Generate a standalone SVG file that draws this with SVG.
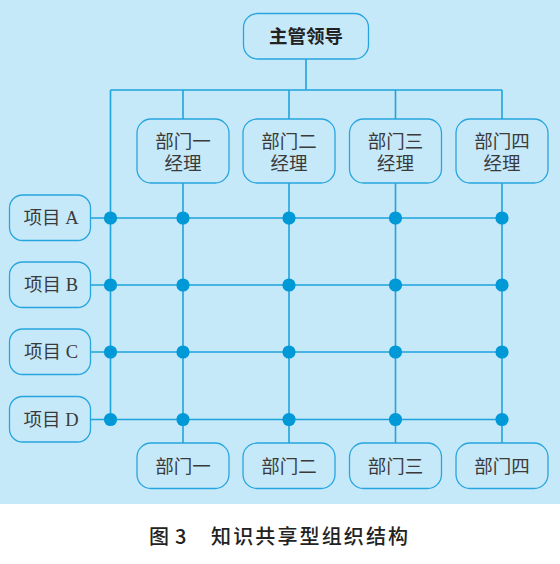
<svg xmlns="http://www.w3.org/2000/svg" width="560" height="564" viewBox="0 0 560 564">
<style>
.box{fill:#c6e9fa;stroke:#27a5de;stroke-width:1.3}
.ln{stroke:#1ea4dc;stroke-width:1.6;fill:none}
.dot{fill:#0099d8}
.t{font-family:"Liberation Serif","Noto Sans CJK SC",serif;font-size:18.5px;fill:#3a3a3a;text-anchor:middle}
.tb{font-family:"Noto Sans CJK SC",sans-serif;font-size:18.5px;font-weight:bold;fill:#222;text-anchor:middle}
.cap{font-family:"Noto Sans CJK SC",sans-serif;font-size:20px;font-weight:500;fill:#222}
</style>
<rect x="0" y="0" width="560" height="504" fill="#c6e9fa"/>
<g id="connectors">
<path class="ln" d="M306 59V90M110.5 90H502M183 90V119M289 90V119M395.5 90V119M502 90V119"/>
<path class="ln" d="M110.5 90V419.5M183 183V443M289 183V443M395.5 183V443M502 183V443"/>
<path class="ln" d="M90.5 218H502M90.5 285H502M90.5 352H502M90.5 419.5H502"/>
<g class="dot">
<circle cx="110.5" cy="218" r="6.6"/><circle cx="183" cy="218" r="6.6"/><circle cx="289" cy="218" r="6.6"/><circle cx="395.5" cy="218" r="6.6"/><circle cx="502" cy="218" r="6.6"/>
<circle cx="110.5" cy="285" r="6.6"/><circle cx="183" cy="285" r="6.6"/><circle cx="289" cy="285" r="6.6"/><circle cx="395.5" cy="285" r="6.6"/><circle cx="502" cy="285" r="6.6"/>
<circle cx="110.5" cy="352" r="6.6"/><circle cx="183" cy="352" r="6.6"/><circle cx="289" cy="352" r="6.6"/><circle cx="395.5" cy="352" r="6.6"/><circle cx="502" cy="352" r="6.6"/>
<circle cx="110.5" cy="419.5" r="6.6"/><circle cx="183" cy="419.5" r="6.6"/><circle cx="289" cy="419.5" r="6.6"/><circle cx="395.5" cy="419.5" r="6.6"/><circle cx="502" cy="419.5" r="6.6"/>
</g>
</g>
<g id="leader"><rect class="box" x="243.5" y="13.5" width="125" height="45.5" rx="14"/><text class="tb" x="306" y="43">主管领导</text></g>
<g id="mgr1"><rect class="box" x="137" y="119" width="92" height="64" rx="14"/><text class="t" x="183" y="148">部门一</text><text class="t" x="183" y="170">经理</text></g>
<g id="mgr2"><rect class="box" x="243" y="119" width="92" height="64" rx="14"/><text class="t" x="289" y="148">部门二</text><text class="t" x="289" y="170">经理</text></g>
<g id="mgr3"><rect class="box" x="349.5" y="119" width="92" height="64" rx="14"/><text class="t" x="395.5" y="148">部门三</text><text class="t" x="395.5" y="170">经理</text></g>
<g id="mgr4"><rect class="box" x="456" y="119" width="92" height="64" rx="14"/><text class="t" x="502" y="148">部门四</text><text class="t" x="502" y="170">经理</text></g>
<g id="projA"><rect class="box" x="9.5" y="195" width="81" height="45.5" rx="13"/><text class="t" x="51" y="224">项目 A</text></g>
<g id="projB"><rect class="box" x="9.5" y="262" width="81" height="45.5" rx="13"/><text class="t" x="51" y="291">项目 B</text></g>
<g id="projC"><rect class="box" x="9.5" y="329" width="81" height="45.5" rx="13"/><text class="t" x="51" y="358">项目 C</text></g>
<g id="projD"><rect class="box" x="9.5" y="396.5" width="81" height="45.5" rx="13"/><text class="t" x="51" y="425.5">项目 D</text></g>
<g id="dept1"><rect class="box" x="137" y="443" width="92" height="45.5" rx="14"/><text class="t" x="183" y="472.5">部门一</text></g>
<g id="dept2"><rect class="box" x="243" y="443" width="92" height="45.5" rx="14"/><text class="t" x="289" y="472.5">部门二</text></g>
<g id="dept3"><rect class="box" x="349.5" y="443" width="92" height="45.5" rx="14"/><text class="t" x="395.5" y="472.5">部门三</text></g>
<g id="dept4"><rect class="box" x="456" y="443" width="92" height="45.5" rx="14"/><text class="t" x="502" y="472.5">部门四</text></g>
<g id="caption"><text class="cap" y="544"><tspan x="149">图</tspan><tspan x="175">3</tspan></text><text class="cap" x="211" y="544" textLength="197">知识共享型组织结构</text></g>
</svg>
